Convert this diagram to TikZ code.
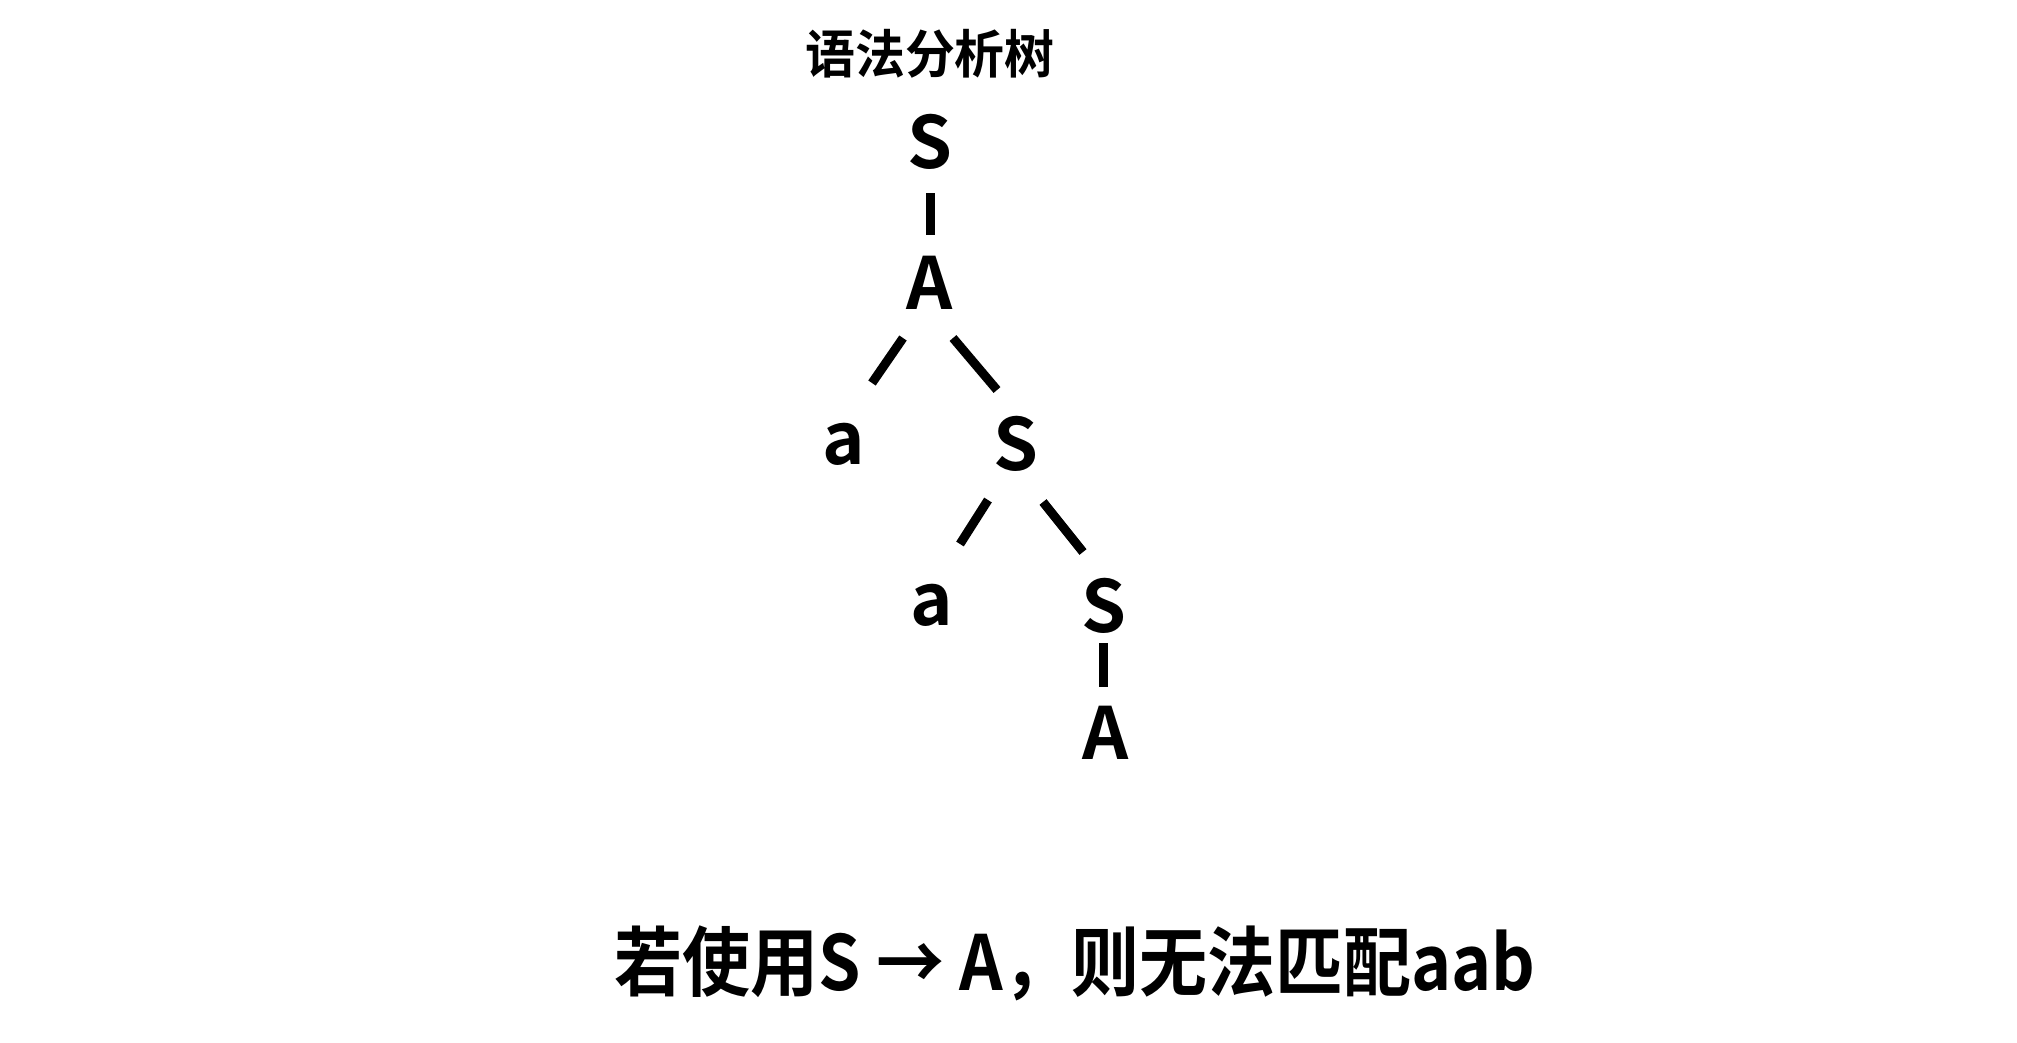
\documentclass[tikz,border=0pt]{standalone}
\usepackage{fontspec}
\usetikzlibrary{calc}
\newfontfamily\cjkb{Noto Sans CJK SC Bold}
\tikzset{
  lab/.style={inner sep=0pt, outer sep=0pt, font=\cjkb\fontsize{72}{80}\selectfont},
  ttl/.style={inner sep=0pt, outer sep=0pt, xscale=0.96, font=\cjkb\fontsize{52}{60}\selectfont},
  captxt/.style={inner sep=0pt, outer sep=0pt, xscale=0.895, font=\cjkb\fontsize{76}{84}\selectfont},
  edge/.style={line width=9pt, black}
}
\begin{document}
\begin{tikzpicture}[x=1pt,y=-1pt]
\useasboundingbox (0,0) rectangle (2017,1042);
\fill[white] (0,0) rectangle (2017,1042);
\node[ttl] (title) at (930,54) {语法分析树};
\node[lab] (S1) at (930,142) {S};
\node[lab] (A1) at (930,283) {A};
\node[lab] (a1) at (844,444) {a};
\node[lab] (S2) at (1016,444) {S};
\node[lab] (a2) at (932,605) {a};
\node[lab] (S3) at (1104,606) {S};
\node[lab] (A2) at (1106,733) {A};
\node[captxt] (bottom) at (1075,963) {若使用S → A，则无法匹配aab};
\draw[edge] ($(S1)+(0,51)$) -- ($(A1)+(0,-48)$);
\draw[edge] ($(A1)+(-27,55)$) -- ($(a1)+(28,-61)$);
\draw[edge] ($(A1)+(23,55)$) -- ($(S2)+(-19,-54)$);
\draw[edge] ($(S2)+(-28,56)$) -- ($(a2)+(28,-61)$);
\draw[edge] ($(S2)+(27,58)$) -- ($(S3)+(-21,-54)$);
\draw[edge] ($(S3)+(-1,37)$) -- ($(A2)+(-3,-46)$);
\end{tikzpicture}
\end{document}
